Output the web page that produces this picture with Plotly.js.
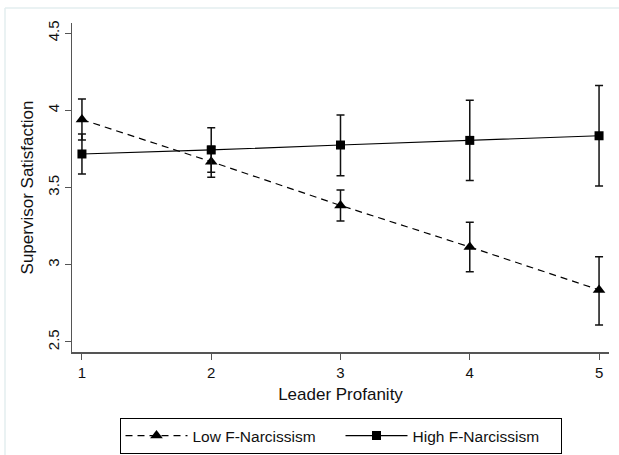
<!DOCTYPE html>
<html>
<head>
<meta charset="utf-8">
<script src="https://cdn.plot.ly/plotly-3.0.1.min.js"></script>
<style>
html,body{margin:0;padding:0;background:#fff;}
#chart{width:619px;height:455px;}
</style>
</head>
<body>
<div id="chart"></div>
<script>
const profanity = [1, 2, 3, 4, 5];
const lowMean  = [3.94, 3.667, 3.384, 3.115, 2.837];
const lowUpper = [4.073, 3.767, 3.484, 3.275, 3.052];
const lowLower = [3.807, 3.567, 3.283, 2.955, 2.61];
const highMean  = [3.717, 3.743, 3.775, 3.805, 3.835];
const highUpper = [3.847, 3.887, 3.969, 4.065, 4.16];
const highLower = [3.587, 3.599, 3.576, 3.545, 3.51];
const yTickVals = [2.5, 3, 3.5, 4, 4.5];
const yTickText = ['2.5', '3', '3.5', '4', '4.5'];
const xTickVals = [1, 2, 3, 4, 5];
const xTickText = ['1', '2', '3', '4', '5'];

const font = 'Liberation Sans, Arial, sans-serif';

function errs(mean, up, lo) {
  return {
    type: 'data', symmetric: false,
    array: up.map((v, i) => v - mean[i]),
    arrayminus: mean.map((v, i) => v - lo[i]),
    color: '#111', thickness: 1.5, width: 4
  };
}

const traces = [
  {
    x: profanity, y: lowMean, name: 'Low F-Narcissism', type: 'scatter', mode: 'lines+markers',
    line: {color: '#000', width: 1.2, dash: '7px,5px'},
    marker: {symbol: 'triangle-up', size: 11, color: '#000'},
    error_y: errs(lowMean, lowUpper, lowLower)
  },
  {
    x: profanity, y: highMean, name: 'High F-Narcissism', type: 'scatter', mode: 'lines+markers',
    line: {color: '#000', width: 1.2},
    marker: {symbol: 'square', size: 9, color: '#000'},
    error_y: errs(highMean, highUpper, highLower)
  }
];

const layout = {
  width: 619, height: 455,
  margin: {l: 72, r: 10, t: 23, b: 103, autoexpand: false},
  paper_bgcolor: '#fff', plot_bgcolor: '#fff',
  font: {family: font, size: 15, color: '#111'},
  showlegend: true,
  legend: {
    orientation: 'h', x: 0.5, xanchor: 'center', y: -0.2006, yanchor: 'top',
    bordercolor: '#000', borderwidth: 1, itemwidth: 62,
    font: {family: font, size: 15.5, color: '#111'},
    entrywidth: 143, tracegroupgap: 0
  },
  xaxis: {
    range: [0.923, 5.077], tickvals: xTickVals, ticktext: xTickText,
    showgrid: false, zeroline: false, showline: true, linecolor: '#555', linewidth: 1.5,
    ticks: 'outside', ticklen: 6, tickcolor: '#555', tickwidth: 1,
    tickfont: {family: font, size: 15, color: '#111'},
    title: {text: 'Leader Profanity', font: {family: font, size: 17, color: '#111'}, standoff: 8},
    automargin: false
  },
  yaxis: {
    range: [2.435, 4.565], tickvals: yTickVals, ticktext: yTickText, tickangle: -90,
    showgrid: false, zeroline: false, showline: true, linecolor: '#555', linewidth: 1.5,
    ticks: 'outside', ticklen: 6, tickcolor: '#555', tickwidth: 1,
    tickfont: {family: font, size: 15, color: '#111'},
    title: {text: 'Supervisor Satisfaction', font: {family: font, size: 17, color: '#111'}, standoff: 6},
    automargin: false
  },
  shapes: [
    {type: 'line', xref: 'paper', yref: 'paper', x0: (5 - 72) / 537, x1: (619 - 72) / 537,
     y0: 1 + (23 - 8) / 329, y1: 1 + (23 - 8) / 329, line: {color: '#e3eeef', width: 1.5}},
    {type: 'line', xref: 'paper', yref: 'paper', x0: (5 - 72) / 537, x1: (5 - 72) / 537,
     y0: 1 + (23 - 8) / 329, y1: -(455 - 352) / 329, line: {color: '#e3eeef', width: 1.5}}
  ]
};

Plotly.newPlot('chart', traces, layout, {displayModeBar: false, staticPlot: true});
</script>
</body>
</html>
